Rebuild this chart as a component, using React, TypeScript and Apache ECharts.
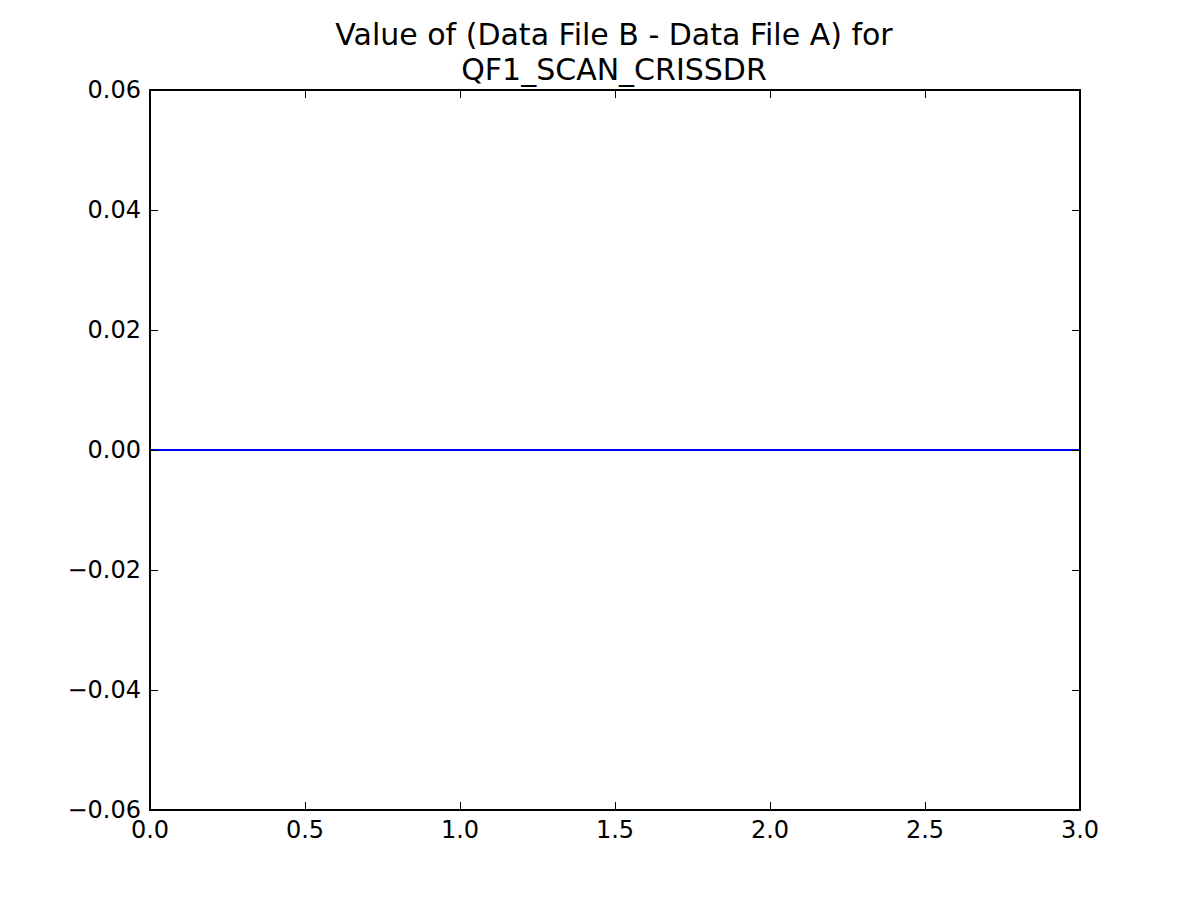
import React, { useEffect, useRef } from "react";
import * as echarts from "echarts";

const titleLines = ["Value of (Data File B - Data File A) for", "QF1_SCAN_CRISSDR"];
const xValues = [0, 1, 2, 3];
const yValues = [0, 0, 0, 0];
const xTicks = { min: 0, max: 3, interval: 0.5 };
const yTicks = { min: -0.06, max: 0.06, interval: 0.02 };

const FONT = "DejaVu Sans";

export default function App() {
  const ref = useRef<HTMLDivElement>(null);
  useEffect(() => {
    const chart = echarts.init(ref.current!, null, { renderer: "svg" });
    const axisLine = { show: true, onZero: false, lineStyle: { color: "#000", width: 2 } };
    const tick = { show: true, inside: true, length: 8, lineStyle: { color: "#000", width: 1 } };
    const fmtY = (v: number) => {
      const s = Math.abs(v).toFixed(2);
      return v < -1e-9 ? "\u2212" + s : s;
    };
    chart.setOption({
      animation: false,
      backgroundColor: "#fff",
      title: {
        text: titleLines.join("\n"),
        left: 609,
        top: 12,
        textAlign: "center",
        textStyle: { fontFamily: FONT, fontSize: 30, fontWeight: "normal", color: "#000", lineHeight: 35 },
      },
      grid: { left: 150, top: 90, width: 930, height: 720, containLabel: false },
      xAxis: [
        {
          type: "value",
          position: "bottom",
          min: xTicks.min,
          max: xTicks.max,
          interval: xTicks.interval,
          z: 5,
          axisLine,
          axisTick: tick,
          splitLine: { show: false },
          axisLabel: { fontFamily: FONT, fontSize: 24, color: "#000", margin: 8, formatter: (v: number) => v.toFixed(1) },
        },
        {
          type: "value",
          position: "top",
          min: xTicks.min,
          max: xTicks.max,
          interval: xTicks.interval,
          z: 5,
          axisLine,
          axisTick: tick,
          splitLine: { show: false },
          axisLabel: { show: false },
        },
      ],
      yAxis: [
        {
          type: "value",
          position: "left",
          min: yTicks.min,
          max: yTicks.max,
          interval: yTicks.interval,
          z: 5,
          axisLine,
          axisTick: tick,
          splitLine: { show: false },
          axisLabel: { fontFamily: FONT, fontSize: 24, color: "#000", margin: 9, formatter: fmtY },
        },
        {
          type: "value",
          position: "right",
          min: yTicks.min,
          max: yTicks.max,
          interval: yTicks.interval,
          z: 5,
          axisLine,
          axisTick: tick,
          splitLine: { show: false },
          axisLabel: { show: false },
        },
      ],
      series: [
        {
          type: "line",
          xAxisIndex: 0,
          yAxisIndex: 0,
          data: xValues.map((x, i) => [x, yValues[i]]),
          showSymbol: false,
          lineStyle: { color: "#0000ff", width: 2 },
          z: 2,
        },
      ],
    });
    return () => chart.dispose();
  }, []);
  return (
    <div
      ref={ref}
      style={{ position: "absolute", left: 0, top: 0, width: 1200, height: 900, background: "#fff" }}
    />
  );
}
